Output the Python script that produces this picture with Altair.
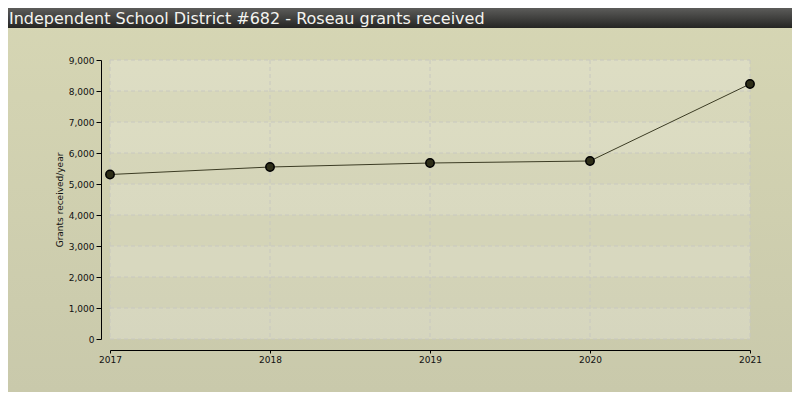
import altair as alt
import pandas as pd

years = ["2017", "2018", "2019", "2020", "2021"]
grants = [5306, 5548, 5677, 5742, 8226]
band_lo = [0, 1000, 2000, 3000, 4000, 5000, 6000, 7000, 8000]
band_hi = [1000, 2000, 3000, 4000, 5000, 6000, 7000, 8000, 9000]
band_alt = [0, 1, 0, 1, 0, 1, 0, 1, 0]
y_ticks = [0, 1000, 2000, 3000, 4000, 5000, 6000, 7000, 8000, 9000]
title_text = "Independent School District #682 - Roseau grants received"
y_title = "Grants received/year"

W, H = 640, 279
PL, PT, PR, PB = 102, 52, 42, 53

df = pd.DataFrame({"year": years, "grants": grants})
bands = pd.DataFrame({"lo": band_lo, "hi": band_hi, "alt": band_alt})
yt = pd.DataFrame({"grants": y_ticks})
xt = pd.DataFrame({"year": years})

yscale = alt.Scale(domain=[0, 9000], nice=False)
xscale = alt.Scale(type="point", padding=0, domain=years)

xaxis = alt.Axis(title=None, labelAngle=0, offset=11, tickSize=3, domainColor="#000000",
                 tickColor="#000000", labelFontSize=9, labelFont="DejaVu Sans",
                 labelColor="#111111", labelPadding=2, labelAlign="center", grid=False, zindex=1)
yaxis = alt.Axis(title=y_title, values=y_ticks, format=",.0f", offset=9, tickSize=5,
                 domainColor="#000000", tickColor="#000000", labelFontSize=9,
                 labelFont="DejaVu Sans", labelColor="#111111", titleFont="DejaVu Sans",
                 titleFontSize=9, titleFontWeight="normal", titleColor="#111111",
                 titlePadding=4, grid=False, zindex=1)
X = alt.X("year:O", scale=xscale, axis=xaxis)
Y = alt.Y("grants:Q", scale=yscale, axis=yaxis)

bg = alt.Chart(pd.DataFrame({"a": [0]})).mark_rect(
    color=alt.Gradient(gradient="linear", x1=0, x2=0, y1=0, y2=1,
                       stops=[alt.GradientStop(color="#d6d6b4", offset=0),
                              alt.GradientStop(color="#c9c9ab", offset=1)])
).encode(x=alt.value(-PL), x2=alt.value(W + PR), y=alt.value(-PT), y2=alt.value(H + PB))

bar = alt.Chart(pd.DataFrame({"a": [0]})).mark_rect(
    color=alt.Gradient(gradient="linear", x1=0, x2=0, y1=0, y2=1,
                       stops=[alt.GradientStop(color="#5c5c5a", offset=0),
                              alt.GradientStop(color="#252523", offset=1)])
).encode(x=alt.value(-PL), x2=alt.value(W + PR), y=alt.value(-PT), y2=alt.value(-PT + 20))

title = alt.Chart(pd.DataFrame({"t": [title_text]})).mark_text(
    align="left", baseline="alphabetic", fontSize=16, font="DejaVu Sans", color="#f4f4f0"
).encode(x=alt.value(-PL + 1), y=alt.value(-PT + 16), text="t:N")

band_layer = alt.Chart(bands).mark_rect(color="#ffffff").encode(
    x=alt.value(0), x2=alt.value(W),
    y=alt.Y("lo:Q", scale=yscale, axis=yaxis), y2="hi:Q",
    opacity=alt.Opacity("alt:N", scale=alt.Scale(domain=[0, 1], range=[0.22, 0.12]), legend=None),
)

hgrid = alt.Chart(yt).mark_rule(color="#c8c8c0", strokeDash=[4, 3], strokeWidth=1).encode(
    y=Y, x=alt.value(0), x2=alt.value(W)
)
vgrid = alt.Chart(xt).mark_rule(color="#c8c8c0", strokeDash=[4, 3], strokeWidth=1).encode(
    x=X, y=alt.value(0), y2=alt.value(H)
)

line = alt.Chart(df).mark_line(color="#3c3c24", strokeWidth=1).encode(x=X, y=Y)

points = alt.Chart(df).mark_point(filled=True, size=70, color="#2e2e18", stroke="#000000",
                                  strokeWidth=1.5, opacity=1).encode(x=X, y=Y)

chart = alt.layer(bg, bar, title, band_layer, hgrid, vgrid, line, points).properties(
    width=W, height=H,
    autosize=alt.AutoSizeParams(type="none"),
    padding={"left": PL, "top": PT, "right": PR, "bottom": PB},
).configure_view(stroke=None).configure(background="#d0d0b0")

chart.save("out.html", embed_options={"renderer": "svg", "actions": False})
